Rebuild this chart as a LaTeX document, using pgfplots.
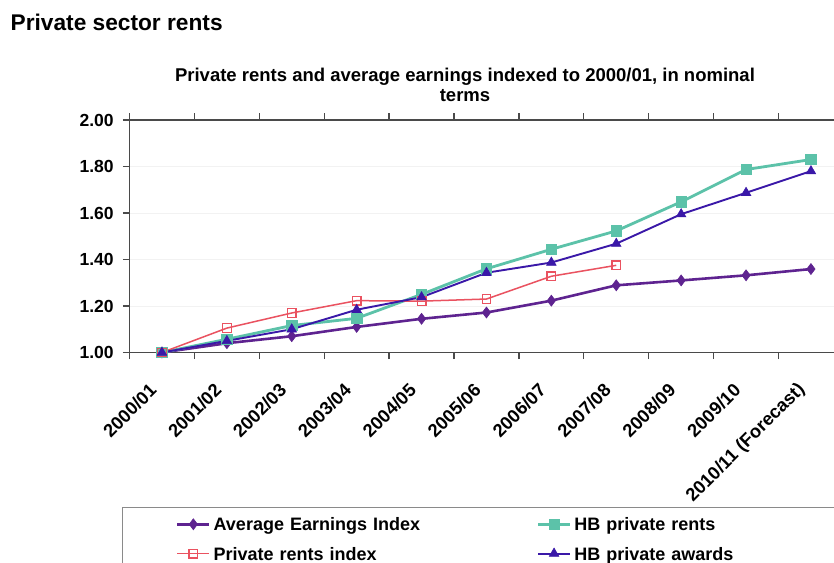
\documentclass[border=0pt]{standalone}
\usepackage{fontspec}
\setmainfont{Liberation Sans}
\usepackage{pgfplots}
\pgfplotsset{compat=1.18}
\definecolor{aei}{HTML}{5E2390}
\definecolor{hbr}{HTML}{5CC2A9}
\definecolor{pri}{HTML}{EA5260}
\definecolor{hba}{HTML}{3A18A8}
\definecolor{axc}{HTML}{4A4A4A}
\definecolor{lgc}{HTML}{8A8A8A}
\begin{document}
\begin{tikzpicture}[x=1pt,y=1pt]
\clip (0,0) rectangle (834,-562);
\fill[white] (0,0) rectangle (834,-562);
\node[anchor=base west, inner sep=0pt, font=\fontsize{22.7}{27}\selectfont\bfseries] at (10.5,-30) {Private sector rents};
\node[anchor=base, inner sep=0pt, font=\fontsize{18.5}{22}\selectfont\bfseries] at (465,-81.8) {Private rents and average earnings indexed to 2000/01, in nominal};
\node[anchor=base, inner sep=0pt, font=\fontsize{18.5}{22}\selectfont\bfseries] at (465,-101.7) {terms};
\begin{axis}[
  at={(129.5pt,-352.5pt)}, anchor=south west, scale only axis,
  width=713.9pt, height=232.5pt,
  xmin=-0.5, xmax=10.5, ymin=1, ymax=2,
  clip=false,
  xtick={-0.5,0.5,1.5,2.5,3.5,4.5,5.5,6.5,7.5,8.5,9.5,10.5},
  x tick label as interval,
  xticklabels={2000/01,2001/02,2002/03,2003/04,2004/05,2005/06,2006/07,2007/08,2008/09,2009/10,2010/11 (Forecast)},
  ytick={1,1.2,1.4,1.6,1.8,2},
  yticklabel={\pgfmathprintnumber[fixed,fixed zerofill,precision=2]{\tick}},
  /pgf/number format/assume math mode=true,
  ymajorgrids,
  major grid style={draw=black!5, line width=1pt},
  tick align=outside, major tick length=6.7pt,
  tick style={axc, line width=1.3pt},
  axis line style={axc, line width=1.8pt},
  xticklabel style={xshift=-8pt, yshift=-27pt, rotate=45, anchor=east, inner sep=1pt, font=\fontsize{18.3}{20}\selectfont\bfseries},
  yticklabel style={inner sep=0pt, xshift=-9pt, font=\fontsize{17.5}{20}\selectfont\bfseries},
  legend columns=2,
  legend style={at={(-0.0112,-0.6624)}, anchor=north west, draw=lgc, line width=1.5pt,
    inner xsep=53.8pt, inner ysep=8.5pt, row sep=12.3pt,
    cells={anchor=west},
    nodes={inner sep=0pt, text height=15pt, text depth=2pt, text width=315pt,
      font=\fontsize{18}{21}\selectfont\bfseries},
    /tikz/every odd column/.append style={column sep=3pt},
    /tikz/every even column/.append style={column sep=8pt}},
  legend image code/.code={\draw[mark repeat=2,mark phase=2] plot coordinates {(0pt,0pt)(16pt,0pt)(32pt,0pt)};},
]
\addplot[color=aei, line width=2.6pt, mark=diamond*, mark size=5.5pt, mark options={solid, fill=aei, draw=aei, line width=0.6pt}]
 coordinates {(0,1.00)(1,1.04)(2,1.07)(3,1.11)(4,1.145)(5,1.172)(6,1.223)(7,1.289)(8,1.31)(9,1.332)(10,1.359)};
\addlegendentry{Average Earnings Index}
\addplot[color=hbr, line width=2.8pt, mark=square*, mark size=5.2pt, mark options={solid, fill=hbr, draw=hbr, line width=0.6pt}]
 coordinates {(0,1.00)(1,1.057)(2,1.116)(3,1.147)(4,1.25)(5,1.36)(6,1.444)(7,1.523)(8,1.648)(9,1.787)(10,1.83)};
\addlegendentry{HB private rents}
\addplot[color=pri, line width=1.5pt, mark=square, mark size=4.3pt, mark options={solid, fill=white, draw=pri, line width=1.3pt}]
 coordinates {(0,1.00)(1,1.105)(2,1.17)(3,1.223)(4,1.221)(5,1.23)(6,1.328)(7,1.375)};
\addlegendentry{Private rents index}
\addplot[color=hba, line width=1.9pt, mark=triangle*, mark size=5.5pt, mark options={solid, fill=hba, draw=hba, line width=0.6pt}]
 coordinates {(0,1.00)(1,1.05)(2,1.10)(3,1.184)(4,1.238)(5,1.343)(6,1.387)(7,1.468)(8,1.595)(9,1.687)(10,1.78)};
\addlegendentry{HB private awards}
\end{axis}
\end{tikzpicture}
\end{document}
